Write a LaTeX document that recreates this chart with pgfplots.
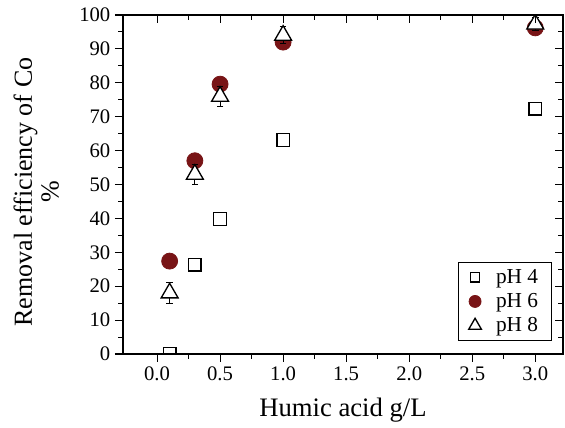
\documentclass[border=0pt]{standalone}
\usepackage{fontspec}
\setmainfont{Liberation Serif}
\usepackage{pgfplots}
\pgfplotsset{compat=1.18}
\definecolor{wine}{RGB}{120,20,22}

\pgfplotstableread{
x y e
0.1 0 1
0.3 26.3 1.5
0.5 39.8 1.2
1.0 63.1 1.5
3.0 72.3 1.5
}\phfour
\pgfplotstableread{
x y e
0.1 27.4 1
0.3 57.0 1
0.5 79.6 1
1.0 92.0 1
3.0 96.2 1
}\phsix
\pgfplotstableread{
x y e
0.1 18.0 3
0.3 53.0 3
0.5 76.0 3
1.0 94.0 2.5
3.0 97.3 2
}\pheight

\begin{document}
\begin{tikzpicture}
\pgfplotsset{
  common/.style={
    scale only axis, width=330pt, height=254.25pt,
    xmin=-0.27, xmax=3.22, ymin=0, ymax=100,
    xtick={0,0.5,...,3}, ytick={0,10,...,100},
    minor x tick num=1, minor y tick num=1,
    major tick length=6pt, minor tick length=3.5pt,
    every tick/.style={black, line width=0.8pt},
    axis line style={line width=0.9pt},
  }
}
\begin{axis}[common,
  tick align=outside, tick pos=left,
  /pgf/number format/assume math mode=true,
  x tick label style={/pgf/number format/.cd, fixed, fixed zerofill, precision=1, assume math mode=true},
  ticklabel style={font=\rmfamily\fontsize{15.5}{18}\selectfont},
  xlabel={Humic acid g/L},
  xlabel style={at={(axis description cs:0.5,-0.165)}, anchor=center, font=\rmfamily\fontsize{20}{24}\selectfont},
  ylabel={Removal efficiency of Co\\\%},
  ylabel style={align=center, at={(axis description cs:-0.197,0.478)}, anchor=center, font=\rmfamily\fontsize{19.5}{20}\selectfont},
  clip marker paths=true,
  legend style={at={(0.975,0.271)}, anchor=north east, draw=black, line width=0.8pt,
    font=\rmfamily\fontsize{16}{19}\selectfont, row sep=2pt, column sep=9pt, inner xsep=8pt, inner ysep=3pt},
  legend cell align=left,
  legend image post style={scale=0.75},
]
\addplot[only marks, mark=square*, mark size=4.7pt, draw=black, mark options={fill=white, line width=1pt},
  error bars/.cd, y dir=both, y explicit, error mark options={rotate=90, mark size=2pt, line width=0.7pt}, error bar style={line width=0.7pt}]
  table[x=x, y=y, y error=e] {\phfour};
\addlegendentry{pH 4}
\addplot[only marks, mark=*, mark size=6pt, draw=wine, mark options={fill=wine, draw=wine, line width=0.6pt},
  error bars/.cd, y dir=both, y explicit, error mark options={rotate=90, mark size=2pt, line width=0.7pt}, error bar style={line width=0.7pt}]
  table[x=x, y=y, y error=e] {\phsix};
\addlegendentry{pH 6}
\addplot[only marks, mark=triangle*, mark size=7.3pt, draw=black, mark options={fill=white, line width=1pt},
  error bars/.cd, y dir=both, y explicit, error mark options={rotate=90, mark size=2.5pt, line width=0.7pt}, error bar style={line width=0.7pt}]
  table[x=x, y=y, y error=e] {\pheight};
\addlegendentry{pH 8}
\end{axis}
\begin{axis}[common,
  tick align=inside, tick pos=right,
  xticklabels={}, yticklabels={},
]
\end{axis}
\pgfresetboundingbox
\path[use as bounding box] (-92.25pt,-55.5pt) rectangle (331.5pt,265.5pt);
\end{tikzpicture}
\end{document}
